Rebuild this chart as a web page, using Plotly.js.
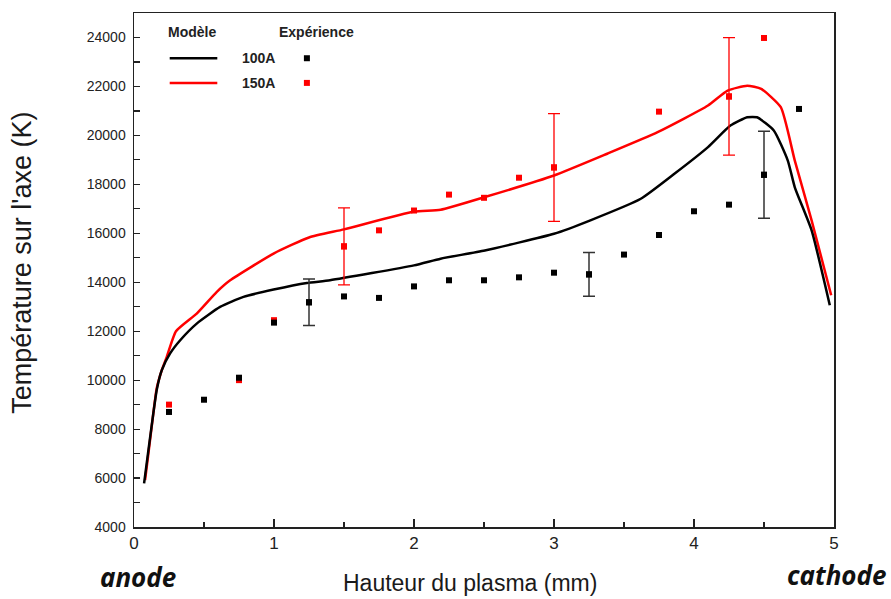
<!DOCTYPE html>
<html><head><meta charset="utf-8">
<script src="https://cdn.plot.ly/plotly-3.0.1.min.js"></script>
<style>html,body{margin:0;padding:0;background:#fff}#c{width:891px;height:599px}</style>
</head><body><div id="c"></div>
<script>
// Model curves
const model100X = [0.072,0.10,0.138,0.162,0.198,0.258,0.33,0.448,0.615,0.782,0.997,1.235,1.40,2.0,2.19,2.506,3.0,3.26,3.62,3.86,4.10,4.26,4.38,4.45,4.57,4.67,4.72,4.84,4.97];
const model100Y = [5780,7007,8640,9590,10400,11090,11630,12310,12990,13400,13700,13970,14080,14690,14960,15300,15980,16530,17410,18430,19520,20400,20740,20740,20200,18970,17880,16120,13060];
const model150X = [0.079,0.10,0.138,0.162,0.198,0.234,0.30,0.448,0.59,0.687,1.0,1.25,1.5,2.0,2.19,2.506,3.0,3.38,3.74,4.10,4.24,4.38,4.48,4.62,4.72,4.84,4.98];
const model150Y = [5920,6870,8640,9660,10400,10950,12000,12720,13600,14080,15180,15830,16160,16890,16960,17480,18360,19250,20130,21220,21830,22030,21900,21150,18970,16530,13470];
// Experimental points
const exp100X = [0.25,0.5,0.75,1.0,1.25,1.5,1.75,2.0,2.25,2.5,2.75,3.0,3.25,3.5,3.75,4.0,4.25,4.5,4.75];
const exp100Y = [8700,9200,10100,12350,13180,13420,13360,13830,14080,14080,14200,14390,14320,15130,15930,16900,17170,18390,21080];
const exp150X = [0.25,0.75,1.0,1.5,1.75,2.0,2.25,2.5,2.75,3.0,3.75,4.25,4.5];
const exp150Y = [9000,10000,12450,15465,16120,16930,17580,17450,18270,18690,20970,21590,23980];
// Error bars
const err100X = [1.25,3.25,4.5];
const err100Y = [13180,14320,18390];
const err100E = [950,890,1780];
const err150X = [1.5,3.0,4.25];
const err150Y = [15465,18690,21590];
const err150E = [1570,2200,2400];
const yTickVals = [4000,6000,8000,10000,12000,14000,16000,18000,20000,22000,24000];

const traces = [
  {x:model150X,y:model150Y,mode:'lines',line:{color:'#ff0000',width:2.5,shape:'spline',smoothing:0.5},hoverinfo:'skip'},
  {x:model100X,y:model100Y,mode:'lines',line:{color:'#000000',width:2.5,shape:'spline',smoothing:0.5},hoverinfo:'skip'},
  {x:err150X,y:err150Y,mode:'markers',marker:{color:'#ff0000',size:6,symbol:'square'},
   error_y:{type:'data',array:err150E,visible:true,color:'#ff0000',thickness:1.3,width:6}},
  {x:exp150X,y:exp150Y,mode:'markers',marker:{color:'#ff0000',size:6,symbol:'square'}},
  {x:err100X,y:err100Y,mode:'markers',marker:{color:'#000',size:6,symbol:'square'},
   error_y:{type:'data',array:err100E,visible:true,color:'#333',thickness:1.5,width:6}},
  {x:exp100X,y:exp100Y,mode:'markers',marker:{color:'#000',size:6,symbol:'square'}}
];

const lg = {family:'Liberation Sans, Arial, sans-serif',size:14,color:'#222'};
const ttl = {family:'Liberation Sans, Arial, sans-serif',color:'#1a1a1a'};
const layout = {
  width:891,height:599,
  margin:{l:134,r:57,t:13,b:72},
  paper_bgcolor:'#fff',plot_bgcolor:'#fff',
  showlegend:false,
  xaxis:{range:[0,5],tickmode:'linear',tick0:0,dtick:1,ticks:'inside',ticklen:8,tickwidth:1.3,tickcolor:'#222',
    showgrid:false,zeroline:false,showline:true,linecolor:'#222',linewidth:1.5,mirror:true,
    tickfont:{family:'Liberation Sans Narrow, Liberation Sans, Arial, sans-serif',size:17,color:'#222'},
    minor:{dtick:0.5,ticks:'inside',ticklen:5,tickwidth:1.2,tickcolor:'#222',showgrid:false}},
  yaxis:{range:[4000,25000],tickmode:'array',tickvals:yTickVals,tickformat:'d',ticks:'inside',ticklen:6,tickwidth:1.2,tickcolor:'#222',
    showgrid:false,zeroline:false,showline:true,linecolor:'#222',linewidth:1.5,mirror:true,
    tickfont:{family:'Liberation Sans, Arial, sans-serif',size:14,color:'#222'},ticklabelstandoff:4,
    minor:{tickmode:'linear',tick0:4000,dtick:1000,ticks:'inside',ticklen:6,tickwidth:1.2,tickcolor:'#222',showgrid:false}},
  annotations:[
    {xref:'paper',yref:'paper',x:0.083,y:0.963,xanchor:'center',yanchor:'middle',text:'<b>Modèle</b>',showarrow:false,font:lg},
    {xref:'paper',yref:'paper',x:0.26,y:0.963,xanchor:'center',yanchor:'middle',text:'<b>Expérience</b>',showarrow:false,font:lg},
    {xref:'paper',yref:'paper',x:0.152,y:0.912,xanchor:'left',yanchor:'middle',text:'<b>100A</b>',showarrow:false,font:lg},
    {xref:'paper',yref:'paper',x:0.152,y:0.864,xanchor:'left',yanchor:'middle',text:'<b>150A</b>',showarrow:false,font:lg},
    {xref:'paper',yref:'paper',x:0.48,y:-0.108,xanchor:'center',yanchor:'middle',text:'Hauteur du plasma (mm)',showarrow:false,
      font:Object.assign({size:23},ttl)},
    {xref:'paper',yref:'paper',x:-0.16,y:0.514,xanchor:'center',yanchor:'middle',textangle:-90,text:'Température sur l\'axe (K)',showarrow:false,
      font:Object.assign({size:27},ttl)},
    {xref:'paper',yref:'paper',x:-0.052,y:-0.097,xanchor:'left',yanchor:'middle',text:'<b><i>anode</i></b>',showarrow:false,
      font:{family:'Noto Sans, sans-serif',size:26,color:'#111'}},
    {xref:'paper',yref:'paper',x:1.004,y:-0.094,xanchor:'center',yanchor:'middle',text:'<b><i>cathode</i></b>',showarrow:false,
      font:{family:'Noto Sans, sans-serif',size:26,color:'#111'}}
  ],
  shapes:[
    {type:'line',xref:'paper',yref:'paper',x0:0.051,x1:0.119,y0:0.912,y1:0.912,line:{color:'#000',width:2.5}},
    {type:'line',xref:'paper',yref:'paper',x0:0.051,x1:0.119,y0:0.864,y1:0.864,line:{color:'#ff0000',width:2.5}},
    {type:'rect',xref:'paper',yref:'paper',xsizemode:'pixel',ysizemode:'pixel',xanchor:0.247,yanchor:0.912,x0:-3,x1:3,y0:-3,y1:3,fillcolor:'#000',line:{width:0}},
    {type:'rect',xref:'paper',yref:'paper',xsizemode:'pixel',ysizemode:'pixel',xanchor:0.247,yanchor:0.864,x0:-3,x1:3,y0:-3,y1:3,fillcolor:'#ff0000',line:{width:0}}
  ]
};
Plotly.newPlot('c',traces,layout,{displayModeBar:false,staticPlot:true});
</script></body></html>
